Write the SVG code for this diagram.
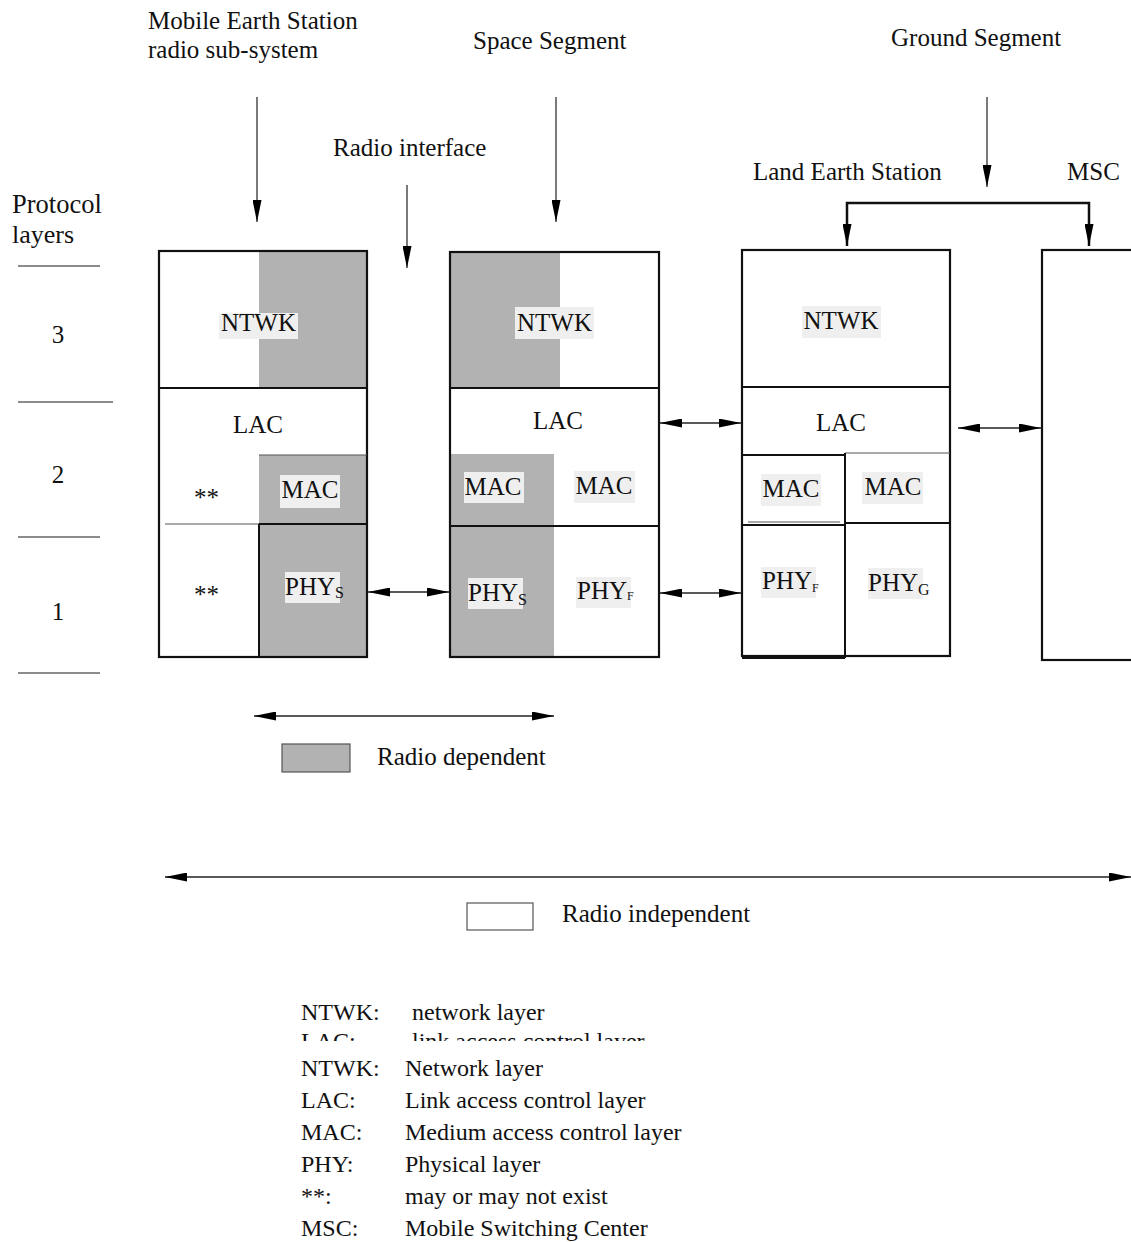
<svg xmlns="http://www.w3.org/2000/svg" width="1131" height="1242" viewBox="0 0 1131 1242">
  <style>
    text { font-family: "Liberation Serif", "Times New Roman", serif; font-size: 25px; fill: #111; }
    .c { text-anchor: middle; }
    .sub { font-size: 16px; }
    .subf { font-size: 12px; }
    .key text { font-size: 24px; }
    .box { fill: none; stroke: #111; stroke-width: 2.2; }
    .div { stroke: #111; stroke-width: 2; }
    .thin { stroke: #555; stroke-width: 1.2; }
    .gray { fill: #b2b2b2; }
    .lb { fill: #efefef; }
    .ptr { stroke: #222; stroke-width: 1.2; fill: none; }
    .dbl { stroke: #222; stroke-width: 1.4; fill: none; }
    .rule { stroke: #666; stroke-width: 1.3; }
  </style>
  <defs>
    <marker id="ah" viewBox="0 0 22 9" refX="22" refY="4.5" markerWidth="22" markerHeight="9" markerUnits="userSpaceOnUse" orient="auto-start-reverse">
      <path d="M0,0 L22,4.5 L0,9 Z" fill="#000"/>
    </marker>
    <clipPath id="cutLine">
      <rect x="280" y="1000" width="450" height="41"/>
    </clipPath>
  </defs>

  <rect width="1131" height="1242" fill="#fff"/>

  <!-- headings -->
  <g id="headings">
    <text x="148" y="29">Mobile Earth Station</text>
    <text x="148" y="58">radio sub-system</text>
    <text x="473" y="49">Space Segment</text>
    <text x="891" y="46">Ground Segment</text>
    <text x="333" y="156">Radio interface</text>
    <text x="753" y="180">Land Earth Station</text>
    <text x="1067" y="180">MSC</text>
  </g>

  <!-- protocol layer scale -->
  <g id="layer-scale">
    <text x="12" y="213" style="font-size:26.5px">Protocol</text>
    <text x="12" y="243" style="font-size:26px">layers</text>
    <line class="rule" x1="18" y1="266" x2="100" y2="266"/>
    <line class="rule" x1="18" y1="402" x2="113" y2="402"/>
    <line class="rule" x1="18" y1="537" x2="100" y2="537"/>
    <line class="rule" x1="18" y1="673" x2="100" y2="673"/>
    <text class="c" x="58" y="343">3</text>
    <text class="c" x="58" y="483">2</text>
    <text class="c" x="58" y="620">1</text>
  </g>

  <!-- Mobile Earth Station stack -->
  <g id="mes">
    <rect class="gray" x="259" y="251" width="108" height="137"/>
    <rect class="gray" x="259" y="455" width="108" height="202"/>
    <rect class="box" x="159" y="251" width="208" height="406"/>
    <line class="div" x1="159" y1="388" x2="367" y2="388"/>
    <line class="thin" x1="259" y1="455" x2="367" y2="455"/>
    <line class="thin" x1="165" y1="524" x2="259" y2="524"/>
    <line class="div" x1="259" y1="524" x2="367" y2="524"/>
    <line class="div" x1="259" y1="524" x2="259" y2="657"/>
    <rect class="lb" x="219" y="313" width="79" height="26"/>
    <text class="c" x="258.5" y="331">NTWK</text>
    <text class="c" x="258" y="433">LAC</text>
    <text x="194" y="506">**</text>
    <rect class="lb" x="280" y="475" width="60" height="33"/>
    <text class="c" x="310" y="498">MAC</text>
    <text x="194" y="603">**</text>
    <rect class="lb" x="285" y="572" width="55" height="31"/>
    <text x="285" y="595">PHY<tspan class="sub" dy="3">S</tspan></text>
  </g>

  <!-- Space Segment stack -->
  <g id="space">
    <rect class="gray" x="450" y="252" width="110" height="136"/>
    <rect class="gray" x="450" y="454" width="104" height="203"/>
    <rect class="box" x="450" y="252" width="209" height="405"/>
    <line class="div" x1="450" y1="388" x2="659" y2="388"/>
    <line class="div" x1="450" y1="526" x2="659" y2="526"/>
    <rect class="lb" x="515" y="307" width="79" height="32"/>
    <text class="c" x="554.5" y="331">NTWK</text>
    <text class="c" x="558" y="429">LAC</text>
    <rect class="lb" x="464" y="472" width="60" height="31"/>
    <text class="c" x="493" y="495">MAC</text>
    <rect class="lb" x="574" y="471" width="61" height="32"/>
    <text class="c" x="604" y="494">MAC</text>
    <rect class="lb" x="468" y="578" width="55" height="31"/>
    <text x="468" y="601">PHY<tspan class="sub" dy="4">S</tspan></text>
    <rect class="lb" x="576" y="577" width="55" height="31"/>
    <text x="577" y="599">PHY<tspan class="subf" dy="1">F</tspan></text>
  </g>

  <!-- Land Earth Station stack -->
  <g id="les">
    <rect class="box" x="742" y="250" width="208" height="406"/>
    <line class="div" x1="742" y1="387" x2="950" y2="387"/>
    <line class="div" x1="742" y1="455" x2="845" y2="455"/>
    <line class="thin" x1="845" y1="453" x2="950" y2="453"/>
    <line class="div" x1="845" y1="453" x2="845" y2="658"/>
    <line class="div" x1="742" y1="525" x2="845" y2="525"/>
    <line class="thin" x1="748" y1="522" x2="840" y2="522"/>
    <line class="div" x1="845" y1="523" x2="950" y2="523"/>
    <line class="div" x1="742" y1="658" x2="845" y2="658"/>
    <rect class="lb" x="802" y="306" width="79" height="32"/>
    <text class="c" x="841" y="329">NTWK</text>
    <text class="c" x="841" y="431">LAC</text>
    <rect class="lb" x="761" y="474" width="60" height="32"/>
    <text class="c" x="791" y="497">MAC</text>
    <rect class="lb" x="862" y="472" width="61" height="32"/>
    <text class="c" x="893" y="495">MAC</text>
    <rect class="lb" x="761" y="567" width="55" height="31"/>
    <text x="762" y="589">PHY<tspan class="subf" dy="3">F</tspan></text>
    <rect class="lb" x="868" y="568" width="55" height="31"/>
    <text x="868" y="591">PHY<tspan class="sub" dy="4">G</tspan></text>
  </g>

  <!-- MSC block -->
  <g id="msc">
    <rect class="box" x="1042" y="250" width="120" height="410"/>
  </g>

  <!-- connectors -->
  <g id="connectors">
    <line class="ptr" x1="257" y1="97" x2="257" y2="222" marker-end="url(#ah)"/>
    <line class="ptr" x1="556" y1="97" x2="556" y2="222" marker-end="url(#ah)"/>
    <line class="ptr" x1="407" y1="185" x2="407" y2="268" marker-end="url(#ah)"/>
    <line class="ptr" x1="987" y1="97" x2="987" y2="187" marker-end="url(#ah)"/>
    <path d="M847,246 V203 H1089 V246" stroke="#111" stroke-width="2.5" fill="none" marker-start="url(#ah)" marker-end="url(#ah)"/>

    <line class="dbl" x1="368" y1="592" x2="449" y2="592" marker-start="url(#ah)" marker-end="url(#ah)"/>
    <line class="dbl" x1="660" y1="423" x2="741" y2="423" marker-start="url(#ah)" marker-end="url(#ah)"/>
    <line class="dbl" x1="660" y1="593" x2="741" y2="593" marker-start="url(#ah)" marker-end="url(#ah)"/>
    <line class="dbl" x1="958" y1="428" x2="1041" y2="428" marker-start="url(#ah)" marker-end="url(#ah)"/>

    <line class="dbl" x1="254" y1="716" x2="554" y2="716" marker-start="url(#ah)" marker-end="url(#ah)"/>
    <line class="dbl" x1="165" y1="877" x2="1131" y2="877" marker-start="url(#ah)" marker-end="url(#ah)"/>
  </g>

  <!-- legend swatches -->
  <g id="swatches">
    <rect x="282" y="744" width="68" height="28" fill="#b2b2b2" stroke="#555" stroke-width="1.2"/>
    <text x="377" y="765">Radio dependent</text>
    <rect x="467" y="903" width="66" height="27" fill="#fff" stroke="#555" stroke-width="1.2"/>
    <text x="562" y="922">Radio independent</text>
  </g>

  <!-- abbreviations -->
  <g id="abbreviations" class="key">
    <text x="301" y="1020">NTWK:</text>
    <text x="412" y="1020">network layer</text>
    <g clip-path="url(#cutLine)">
      <text x="301" y="1049">LAC:</text>
      <text x="412" y="1049">link access control layer</text>
    </g>
    <text x="301" y="1076">NTWK:</text>
    <text x="405" y="1076">Network layer</text>
    <text x="301" y="1108">LAC:</text>
    <text x="405" y="1108">Link access control layer</text>
    <text x="301" y="1140">MAC:</text>
    <text x="405" y="1140">Medium access control layer</text>
    <text x="301" y="1172">PHY:</text>
    <text x="405" y="1172">Physical layer</text>
    <text x="301" y="1204">**:</text>
    <text x="405" y="1204">may or may not exist</text>
    <text x="301" y="1236">MSC:</text>
    <text x="405" y="1236">Mobile Switching Center</text>
  </g>
</svg>
